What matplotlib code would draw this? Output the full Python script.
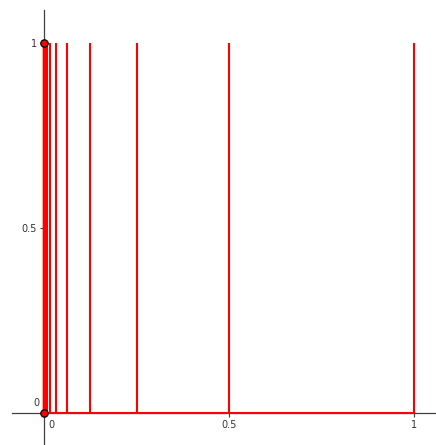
import numpy as np
import matplotlib.pyplot as plt

# vertical segments at x = 1/2^k, height 1
ks = list(range(0, 14))
xs = [1.0 / 2 ** k for k in ks]
heights = [1.0] * len(xs)
endpoints_x = [0, 0]
endpoints_y = [0, 1]
tick_vals = [0.5, 1]
tick_labels = ['0.5', '1']

fig = plt.figure(figsize=(4.36, 4.45), dpi=100)
ax = fig.add_axes([0, 0, 1, 1])
scale = 370.0
ax.set_xlim(-44 / scale, (436 - 44) / scale)
ax.set_ylim((413 - 445) / scale, 413 / scale)

axcol = '#404040'
for s in ['top', 'right']:
    ax.spines[s].set_visible(False)
ax.spines['left'].set_position(('data', 0))
ax.spines['bottom'].set_position(('data', 0))
ax.spines['left'].set_bounds((413 - 445) / scale, (413 - 10) / scale)
ax.spines['bottom'].set_bounds((12 - 44) / scale, (435 - 44) / scale)
for s in ['left', 'bottom']:
    ax.spines[s].set_color(axcol)
    ax.spines[s].set_linewidth(0.9)

ax.set_xticks(tick_vals)
ax.set_xticklabels(tick_labels)
ax.set_yticks(tick_vals)
ax.set_yticklabels(tick_labels)
ax.tick_params(direction='out', length=3, width=0.8, color=axcol,
               labelsize=7, labelcolor='#333333', pad=2)

red = '#ff0000'
ax.vlines(xs, 0, heights, colors=red, linewidth=1.5, zorder=3)
ax.plot([0, 0], [0, 1], color=red, linewidth=2.5, zorder=3)
ax.plot([0, 1], [0, 0], color=red, linewidth=1.5, zorder=3)
ax.scatter(endpoints_x, endpoints_y, s=28, facecolor=red, edgecolor='black',
           linewidth=0.9, zorder=5, clip_on=False)

ax.text(4 / scale, -7 / scale, '0', fontsize=7, color='#333333', ha='left', va='top')
ax.text(-5 / scale, 5 / scale, '0', fontsize=7, color='#333333', ha='right', va='bottom')

fig.savefig('out.png', dpi=100)
